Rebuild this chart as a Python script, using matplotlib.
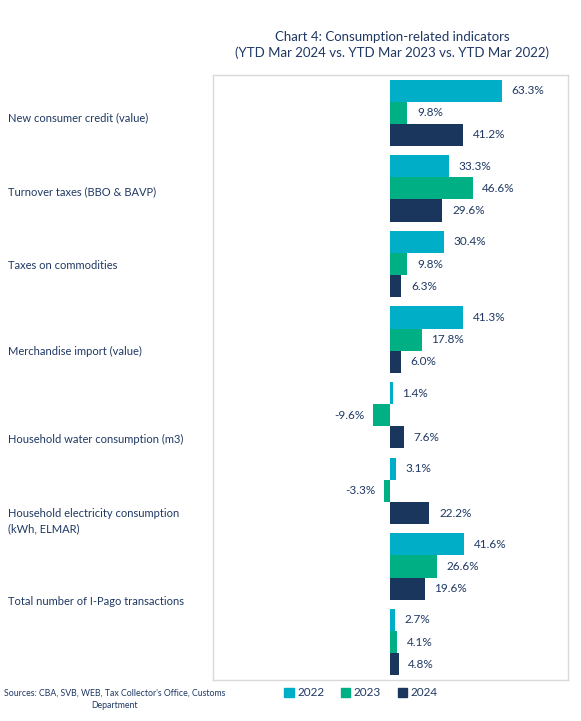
import matplotlib
matplotlib.use('Agg')
from matplotlib import pyplot as plt
from matplotlib.patches import Patch
from matplotlib.transforms import blended_transform_factory
import numpy as np

# data
categories = ['New consumer credit (value)', 'Turnover taxes (BBO & BAVP)',
              'Taxes on commodities', 'Merchandise import (value)',
              'Household water consumption (m3)',
              'Household electricity consumption\n(kWh, ELMAR)',
              'Total number of I-Pago transactions']
years = ['2022', '2023', '2024']
v2022 = [63.3, 33.3, 30.4, 41.3, 1.4, 3.1, 41.6, 2.7]
v2023 = [9.8, 46.6, 9.8, 17.8, -9.6, -3.3, 26.6, 4.1]
v2024 = [41.2, 29.6, 6.3, 6.0, 7.6, 22.2, 19.6, 4.8]

# the category labels in the original don't line up with the bar groups
label_pos = [0.06, 1.05, 2.02, 3.16, 4.32, 5.40, 6.46]

colors = ['#00AEC7', '#00AF84', '#1B365D']
txt = '#1F3864'
plt.rcParams['font.family'] = ['Lato', 'DejaVu Sans']

fig = plt.figure(figsize=(5.81, 7.21), dpi=100)
ax = fig.add_axes([0.3666, 0.057, 0.611, 0.839])

series = [v2022, v2023, v2024]
n = len(v2022)
y = np.arange(n)
h = 0.293
for i, vals in enumerate(series):
    pos = y + (i - 1) * h
    ax.barh(pos, vals, height=h, color=colors[i])
    for p, v in zip(pos, vals):
        if v >= 0:
            ax.annotate(f'{v:.1f}%', (v, p), xytext=(7, 0), textcoords='offset points',
                        ha='left', va='center', fontsize=8.5, color=txt)
        else:
            ax.annotate(f'{v:.1f}%', (v, p), xytext=(-6, 0), textcoords='offset points',
                        ha='right', va='center', fontsize=8.5, color=txt)

ax.set_xlim(-100, 100.5)
ax.set_ylim(n - 0.5, -0.5)
ax.set_xticks([])
ax.set_yticks([])
for s in ax.spines.values():
    s.set_color('#D9D9D9')
    s.set_linewidth(1)

trans = blended_transform_factory(fig.transFigure, ax.transData)
for lab, p in zip(categories, label_pos):
    ax.text(8 / 581, p, lab, transform=trans, ha='left', va='center',
            fontsize=8, color=txt, linespacing=1.5)

fig.text(392 / 581, 1 - 45 / 721,
         'Chart 4: Consumption-related indicators\n(YTD Mar 2024 vs. YTD Mar 2023 vs. YTD Mar 2022)',
         ha='center', va='center', fontsize=9.5, color=txt, linespacing=1.3)

fig.text(115 / 581, 1 - 699 / 721,
         "Sources: CBA, SVB, WEB, Tax Collector's Office, Customs\nDepartment",
         ha='center', va='center', fontsize=6.3, color=txt, linespacing=1.5)

handles = [Patch(color=c) for c in colors]
fig.legend(handles, years, loc='center', bbox_to_anchor=(361 / 581, 1 - 693 / 721),
           ncol=3, frameon=False, fontsize=8.5, handlelength=0.8, handleheight=0.8,
           handletextpad=0.3, columnspacing=1.4, labelcolor=txt)

fig.savefig('out.png', dpi=100)
